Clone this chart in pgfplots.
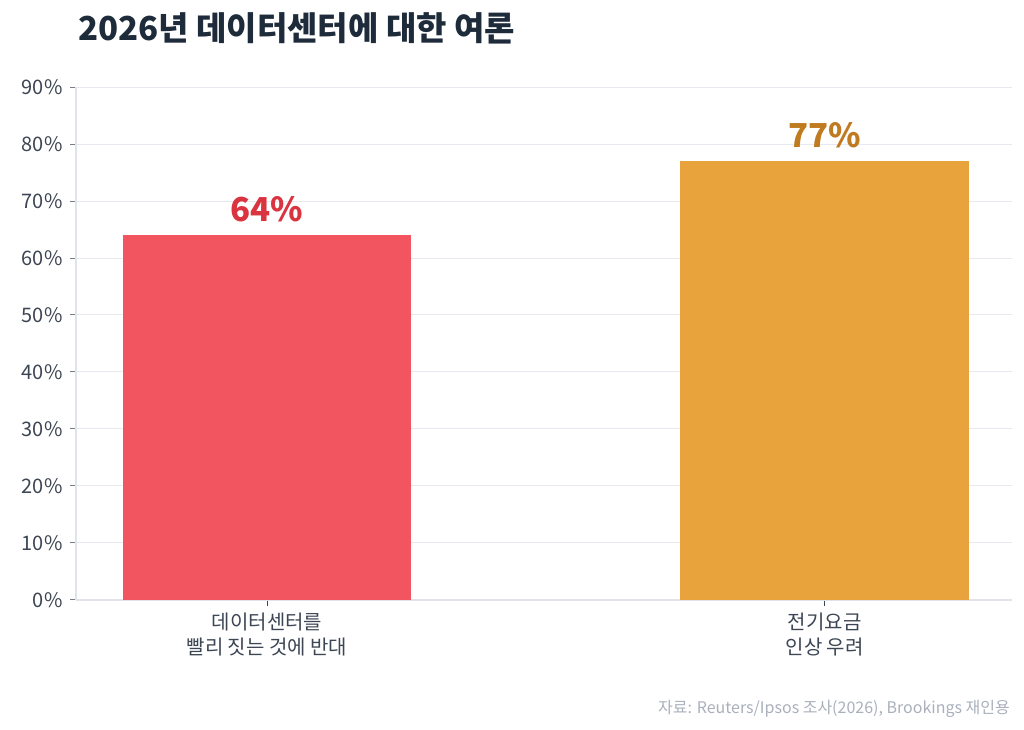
\documentclass[border=0pt]{standalone}
\usepackage{pgfplots}
\pgfplotsset{compat=1.18}
\usepackage{fontspec}
\setmainfont{Noto Sans CJK KR}
\definecolor{titlec}{HTML}{1E2B3A}
\definecolor{tickc}{HTML}{3D4654}
\definecolor{gridc}{HTML}{E6E9EF}
\definecolor{axisc}{HTML}{E0E4EA}
\definecolor{srcc}{HTML}{A9B0BB}
\definecolor{redbar}{HTML}{F25560}
\definecolor{redtxt}{HTML}{D9343F}
\definecolor{orbar}{HTML}{E8A33D}
\definecolor{ortxt}{HTML}{C07A20}
\begin{document}
\begin{tikzpicture}
\useasboundingbox (0,0) rectangle (1024bp,730bp);
\begin{axis}[
  at={(76bp,130bp)}, anchor=south west,
  width=936bp, height=513bp, scale only axis,
  xmin=-0.3426, xmax=1.336, ymin=0, ymax=90,
  ybar, bar width=0.518, bar shift=0pt,
  xtick={0,1},
  xticklabels={{데이터센터를\\빨리 짓는 것에 반대},{전기요금\\인상 우려}},
  xticklabel style={align=center, font=\fontsize{20bp}{25bp}\selectfont, text=tickc, yshift=-3bp},
  ytick={0,10,...,90},
  yticklabel={\pgfmathprintnumber{\tick}\%},
  yticklabel style={font=\fontsize{20bp}{24bp}\selectfont, text=tickc, xshift=-4bp},
  /pgf/number format/assume math mode=true,
  axis x line*=bottom, axis y line*=left,
  ymajorgrids, grid style={gridc, line width=1bp},
  axis line style={axisc, line width=1.2bp},
  tick align=outside, major tick length=6bp,
  ytick style={color=tickc!70, line width=1bp},
  xtick style={color=tickc, line width=1bp},
  clip=false,
]
\addplot[fill=redbar, draw=none,
  nodes near coords={\pgfmathprintnumber{\pgfplotspointmeta}\%},
  nodes near coords style={font=\bfseries\fontsize{33bp}{33bp}\selectfont, text=redtxt, anchor=base, yshift=14bp}]
  coordinates {(0,64)};
\addplot[fill=orbar, draw=none,
  nodes near coords={\pgfmathprintnumber{\pgfplotspointmeta}\%},
  nodes near coords style={font=\bfseries\fontsize{33bp}{33bp}\selectfont, text=ortxt, anchor=base, yshift=14bp}]
  coordinates {(1,77)};
\end{axis}
\node[anchor=base west, inner sep=0pt, text=titlec, font=\bfseries\fontsize{33bp}{36bp}\selectfont] at (78bp,689bp) {2026년 데이터센터에 대한 여론};
\node[anchor=base east, inner sep=0pt, text=srcc, font=\fontsize{16bp}{18bp}\selectfont] at (1010bp,17bp) {자료: Reuters/Ipsos 조사(2026), Brookings 재인용};
\end{tikzpicture}
\end{document}
